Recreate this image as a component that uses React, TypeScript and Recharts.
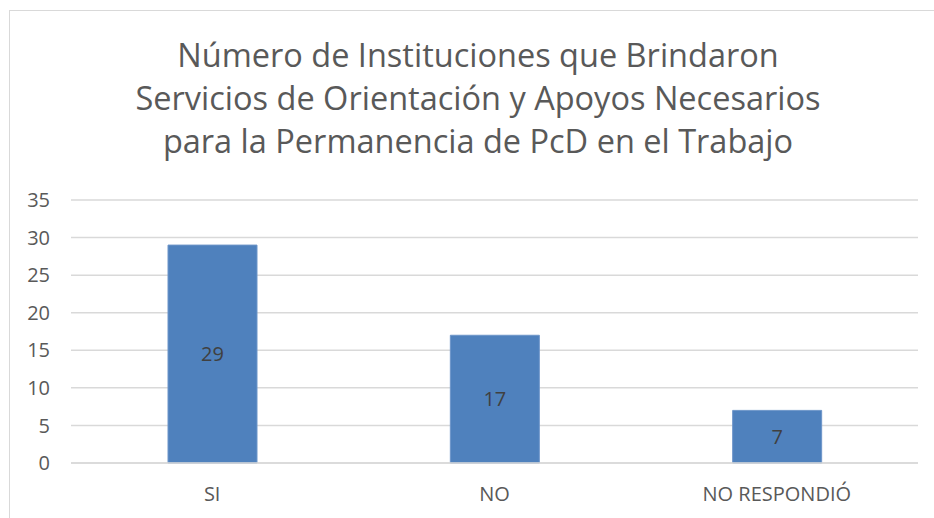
import React from "react";
import {
  BarChart,
  Bar,
  XAxis,
  YAxis,
  CartesianGrid,
  LabelList,
} from "recharts";

const categories = ["SI", "NO", "NO RESPONDIÓ"];
const counts = [29, 17, 7];
const yTicks = [0, 5, 10, 15, 20, 25, 30, 35];
const titleLines = [
  "Número de Instituciones que Brindaron",
  "Servicios de Orientación y Apoyos Necesarios",
  "para la Permanencia de PcD en el Trabajo",
];

const data = categories.map((name, i) => ({ name, value: counts[i] }));

const FONT = "'Open Sans', sans-serif";

export default function App() {
  return (
    <div
      style={{
        position: "absolute",
        left: 0,
        top: 0,
        width: 934,
        height: 518,
        overflow: "hidden",
        background: "#fff",
        fontFamily: FONT,
      }}
    >
      {/* chart frame, cropped on the right and bottom */}
      <div
        style={{
          position: "absolute",
          left: 9,
          top: 10,
          width: 1000,
          height: 600,
          border: "1.5px solid #d9d9d9",
        }}
      />

      <svg
        width={934}
        height={180}
        style={{ position: "absolute", left: 0, top: 0 }}
      >
        {titleLines.map((line, i) => (
          <text
            key={i}
            x={478}
            y={67 + i * 43}
            textAnchor="middle"
            fontSize={32.5}
            fill="#595959"
            fontFamily={FONT}
          >
            {line}
          </text>
        ))}
      </svg>

      <div style={{ position: "absolute", left: 0, top: 0 }}>
        <BarChart
          width={934}
          height={518}
          data={data}
          margin={{ top: 200, right: 16, left: 0, bottom: 0 }}
        >
          <CartesianGrid vertical={false} stroke="#d9d9d9" strokeWidth={1.5} />
          <XAxis
            dataKey="name"
            axisLine={{ stroke: "#d9d9d9", strokeWidth: 1.5 }}
            tickLine={false}
            tickMargin={18}
            height={55}
            tick={{ fontSize: 20, fill: "#595959", fontFamily: FONT }}
          />
          <YAxis
            width={71}
            domain={[0, 35]}
            ticks={yTicks}
            axisLine={false}
            tickLine={false}
            tickMargin={15}
            tick={{ fontSize: 20, fill: "#595959", fontFamily: FONT }}
          />
          <Bar
            dataKey="value"
            fill="#4f81bd"
            stroke="#6d95c9"
            strokeWidth={1}
            barSize={89}
            isAnimationActive={false}
          >
            <LabelList
              dataKey="value"
              position="center"
              fill="#404040"
              fontSize={20}
              fontFamily={FONT}
            />
          </Bar>
        </BarChart>
      </div>
    </div>
  );
}
